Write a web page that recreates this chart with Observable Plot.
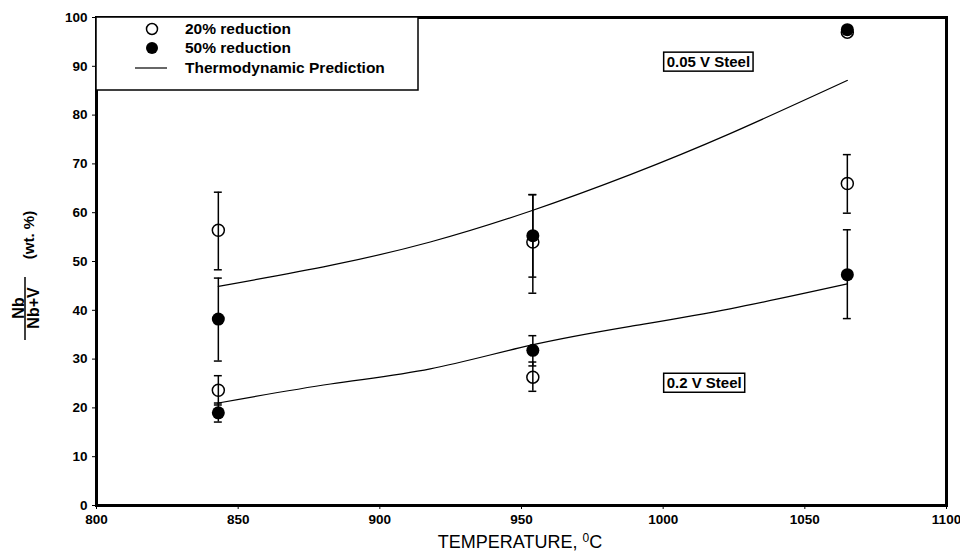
<!DOCTYPE html>
<html>
<head>
<meta charset="utf-8">
<script src="https://cdn.jsdelivr.net/npm/d3@7"></script>
<script src="https://cdn.jsdelivr.net/npm/@observablehq/plot@0.6"></script>
<style>
  html, body { margin: 0; padding: 0; background: white; }
  svg text { font-family: "Liberation Sans", Arial, sans-serif; }
</style>
</head>
<body>
<script>
// ---- data ----
const temps = [843, 954, 1065];
// 0.05 V Steel (upper group)
const hi20 = [56.4, 54.0, 97.0];
const hi20Lo = [48.3, 43.5, null];
const hi20Hi = [64.2, 63.7, null];
const hi50 = [38.2, 55.3, 97.5];
const hi50Lo = [29.6, 46.8, null];
const hi50Hi = [46.6, 63.7, null];
// 0.2 V Steel (lower group)
const lo20 = [23.6, 26.3, 66.0];
const lo20Lo = [20.6, 23.4, 59.9];
const lo20Hi = [26.6, 29.4, 71.9];
const lo50 = [19.0, 31.8, 47.3];
const lo50Lo = [17.1, 28.6, 38.3];
const lo50Hi = [21.0, 34.8, 56.5];
// thermodynamic predictions
const predT = [843, 882.6, 917.8, 953, 988.4, 1023.6, 1065];
const predHigh = [44.9, 49.2, 54.0, 60.3, 67.8, 76.2, 87.1];
const predLow = [21.0, 24.9, 28.0, 32.8, 36.7, 40.3, 45.4];
const xTicks = [800, 850, 900, 950, 1000, 1050, 1100];
const yTicks = [0, 10, 20, 30, 40, 50, 60, 70, 80, 90, 100];
const legendLabels = ["20% reduction", "50% reduction", "Thermodynamic Prediction"];
const steelLabels = ["0.05 V Steel", "0.2 V Steel"];
const steelT = [1000, 1000];
const steelV = [90.8, 25.0];
const xTitle = "TEMPERATURE, ";
const yNum = "Nb", yDen = "Nb+V", yUnit = "(wt. %)";

// ---- build tables ----
const open = [], filled = [], errs = [];
temps.forEach((T, i) => {
  open.push({T, v: hi20[i]}, {T, v: lo20[i]});
  filled.push({T, v: hi50[i]}, {T, v: lo50[i]});
  [[hi20Lo, hi20Hi], [hi50Lo, hi50Hi], [lo20Lo, lo20Hi], [lo50Lo, lo50Hi]].forEach(([L, H]) => {
    if (L[i] != null) errs.push({T, lo: L[i], hi: H[i]});
  });
});
const curveHigh = predT.map((T, i) => ({T, v: predHigh[i]}));
const curveLow = predT.map((T, i) => ({T, v: predLow[i]}));

const plot = Plot.plot({
  width: 960, height: 556,
  marginLeft: 96, marginRight: 14, marginTop: 17, marginBottom: 51,
  style: {fontFamily: "Liberation Sans, Arial, sans-serif", fontSize: "13.5px", fontWeight: "bold", background: "white", color: "black"},
  x: {domain: [800, 1100], ticks: xTicks, tickSize: 4, tickFormat: d => String(d), label: null},
  y: {domain: [0, 100], ticks: yTicks, tickSize: 4, tickFormat: d => String(d), label: null},
  marks: [
    Plot.line(curveHigh, {x: "T", y: "v", curve: "natural", stroke: "black", strokeWidth: 1.2}),
    Plot.line(curveLow, {x: "T", y: "v", curve: "natural", stroke: "black", strokeWidth: 1.2}),
    Plot.ruleX(errs, {x: "T", y1: "lo", y2: "hi", stroke: "black", strokeWidth: 1.5}),
    Plot.ruleY(errs, {y: "lo", x1: d => d.T - 1.4, x2: d => d.T + 1.4, stroke: "black", strokeWidth: 1.5}),
    Plot.ruleY(errs, {y: "hi", x1: d => d.T - 1.4, x2: d => d.T + 1.4, stroke: "black", strokeWidth: 1.5}),
    Plot.dot(open, {x: "T", y: "v", r: 6, stroke: "black", fill: "none", strokeWidth: 1.5}),
    Plot.dot(filled, {x: "T", y: "v", r: 6.5, fill: "black", stroke: "none"}),
    Plot.frame({stroke: "black", strokeWidth: 3})
  ]
});
document.body.appendChild(plot);

const svg = d3.select(plot);
const sx = plot.scale("x"), sy = plot.scale("y");

// legend
const lg = svg.append("g").attr("text-anchor", "start");
lg.append("rect").attr("x", 96).attr("y", 17).attr("width", 322).attr("height", 73)
  .attr("fill", "white").attr("stroke", "black").attr("stroke-width", 1.5);
const ly = [29, 48, 68];
lg.append("circle").attr("cx", 152).attr("cy", ly[0]).attr("r", 5.5).attr("fill", "none").attr("stroke", "black").attr("stroke-width", 1.5);
lg.append("circle").attr("cx", 152).attr("cy", ly[1]).attr("r", 6).attr("fill", "black");
lg.append("line").attr("x1", 135).attr("x2", 167).attr("y1", ly[2]).attr("y2", ly[2]).attr("stroke", "black").attr("stroke-width", 1.2);
legendLabels.forEach((t, i) => {
  lg.append("text").attr("x", 185).attr("y", ly[i]).attr("dy", "0.35em").attr("text-anchor", "start")
    .attr("font-size", 15.5).attr("font-weight", "bold").text(t);
});

// steel labels with boxes
steelLabels.forEach((t, i) => {
  const g = svg.append("g");
  const tx = g.append("text").attr("x", sx.apply(steelT[i]) + 4).attr("y", sy.apply(steelV[i])).attr("dy", "0.35em")
    .attr("text-anchor", "start").attr("font-size", 15).attr("font-weight", "bold").text(t);
  const b = tx.node().getBBox();
  g.insert("rect", "text").attr("x", b.x - 3).attr("y", b.y - 1).attr("width", b.width + 6).attr("height", b.height + 2)
    .attr("fill", "white").attr("stroke", "black").attr("stroke-width", 1.5);
});

// x-axis title
const xt = svg.append("text").attr("x", 520).attr("y", 542).attr("dy", "0.35em").attr("text-anchor", "middle")
  .attr("font-size", 18).attr("font-family", "Liberation Sans Narrow, Liberation Sans, sans-serif").attr("font-weight", "normal");
xt.append("tspan").text(xTitle);
xt.append("tspan").attr("dy", -6).attr("font-size", 12).text("0");
xt.append("tspan").attr("dy", 6).text("C");

// y-axis title: fraction + unit
const yl = svg.append("g").attr("font-weight", "bold").attr("font-size", 16);
yl.append("text").attr("transform", "translate(18,308) rotate(-90)").attr("text-anchor", "middle").attr("dy", "0.35em").text(yNum);
yl.append("line").attr("x1", 25).attr("x2", 25).attr("y1", 277).attr("y2", 340).attr("stroke", "black").attr("stroke-width", 1.5);
yl.append("text").attr("transform", "translate(33,308) rotate(-90)").attr("text-anchor", "middle").attr("dy", "0.35em").text(yDen);
yl.append("text").attr("transform", "translate(29,235) rotate(-90)").attr("text-anchor", "middle").attr("dy", "0.35em").attr("font-size", 15).text(yUnit);
</script>
</body>
</html>
